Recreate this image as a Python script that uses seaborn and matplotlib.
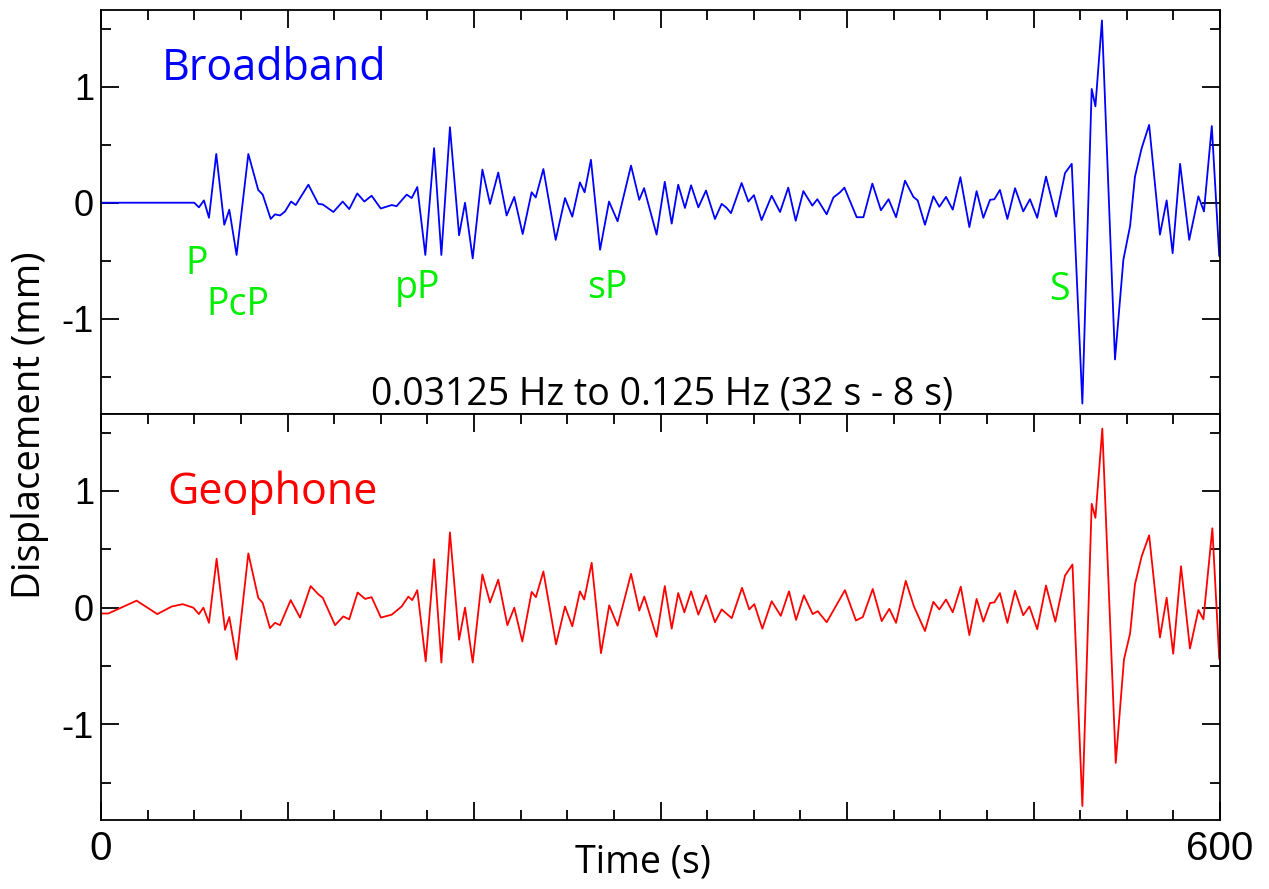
import numpy as np
import pandas as pd
import matplotlib
matplotlib.use("Agg")
import matplotlib.pyplot as plt
from matplotlib.ticker import MultipleLocator, FixedLocator
import seaborn as sns

# ---------------- data ----------------
bb_t = [0, 50, 52.5, 55.2, 57.9, 61.8, 66.1, 68.8, 72.7, 79.0, 84.3, 86.7, 91.0, 93.3, 96.0, 98.7,
        101.9, 104.4, 111.2, 116.5, 118.9, 124.6, 129.6, 133.1, 137.4, 141.2, 145.1, 150.0, 155.9,
        158.5, 163.9, 166.6, 169.6, 173.9, 178.6, 182.5, 187.1, 192.0, 195.2, 199.3, 204.5, 208.6,
        213.0, 217.5, 221.6, 226.1, 230.9, 233.1, 237.2, 243.8, 248.8, 252.7, 256.8, 259.3, 262.7,
        267.6, 272.4, 277.0, 284.2, 288.6, 291.2, 297.9, 302.3, 306.0, 309.5, 313.1, 316.4, 320.3,
        324.4, 329.2, 332.8, 335.5, 337.8, 343.5, 347.1, 350.1, 354.2, 359.6, 364.1, 368.5, 372.5,
        376.6, 381.4, 384.1, 389.1, 392.7, 396.3, 398.6, 405.2, 408.8, 413.6, 418.2, 422.3, 426.3,
        431.1, 435.6, 437.9, 441.8, 446.3, 449.5, 453.1, 456.7, 460.8, 465.6, 469.5, 473.1, 476.7,
        479.0, 482.0, 486.0, 490.1, 494.5, 498.1, 502.0, 506.7, 512.1, 516.9, 520.5, 526.2, 531.2,
        533.2, 536.7, 543.7, 548.2, 551.8, 554.4, 558.0, 562.0, 567.8, 571.4, 574.6, 578.6, 583.5,
        588.4, 591.4, 595.6, 599.6]
bb_v = [0, 0, -0.04, 0.02, -0.13, 0.42, -0.19, -0.06, -0.45, 0.42, 0.11, 0.07, -0.14, -0.10, -0.11,
        -0.075, 0.01, -0.02, 0.155, -0.01, -0.015, -0.08, 0.01, -0.055, 0.08, 0.01, 0.06, -0.05, -0.02,
        -0.03, 0.07, 0.04, 0.135, -0.45, 0.47, -0.45, 0.65, -0.28, 0.0, -0.48, 0.285, -0.01, 0.26,
        -0.11, 0.05, -0.27, 0.09, 0.045, 0.29, -0.32, 0.04, -0.12, 0.175, 0.09, 0.37, -0.405, 0.01,
        -0.16, 0.32, 0.025, 0.125, -0.275, 0.18, -0.18, 0.155, -0.045, 0.15, -0.04, 0.105, -0.14,
        -0.01, -0.045, -0.09, 0.17, 0.01, 0.065, -0.15, 0.06, -0.08, 0.13, -0.155, 0.10, -0.025, 0.03,
        -0.10, 0.045, 0.09, 0.13, -0.125, -0.125, 0.165, -0.065, 0.03, -0.125, 0.19, 0.05, 0.02,
        -0.19, 0.055, -0.035, 0.05, -0.06, 0.22, -0.21, 0.10, -0.13, 0.025, 0.03, 0.11, -0.14, 0.125,
        -0.075, 0.03, -0.13, 0.225, -0.12, 0.255, 0.335, -1.73, 0.98, 0.83, 1.57, -1.35, -0.49, -0.2,
        0.225, 0.47, 0.67, -0.275, 0.02, -0.435, 0.335, -0.32, 0.055, -0.075, 0.66, -0.46]

geo_t = [0, 3.9, 19.1, 30.2, 37.9, 43.8, 49.5, 52.5, 54.9, 57.9, 62.0, 66.5, 68.8, 72.7, 79.0, 84.3,
         86.7, 90.6, 93.3, 96.0, 101.7, 106.7, 112.4, 116.5, 118.9, 125.5, 129.9, 133.1, 137.6, 141.6,
         145.1, 150.1, 155.9, 161.2, 164.8, 166.9, 169.6, 174.1, 178.6, 182.5, 187.1, 192.0, 195.2,
         199.3, 204.5, 208.6, 213.0, 217.9, 221.6, 225.9, 230.9, 233.2, 237.2, 244.0, 248.8, 252.7,
         256.8, 259.1, 263.1, 268.1, 272.5, 277.0, 284.2, 288.6, 291.3, 297.9, 302.3, 306.0, 309.5,
         312.8, 316.4, 320.3, 324.4, 329.2, 332.8, 338.2, 343.7, 347.6, 350.3, 354.6, 359.6, 364.5,
         368.9, 372.7, 376.9, 381.6, 384.3, 389.1, 396.2, 398.9, 404.8, 408.5, 413.8, 418.6, 422.7,
         426.3, 431.5, 435.9, 441.8, 446.3, 449.5, 453.1, 456.7, 461.0, 465.6, 469.5, 473.1, 476.7,
         479.0, 482.0, 486.0, 490.1, 494.5, 497.8, 502.0, 506.7, 511.7, 516.9, 520.9, 526.2, 531.2,
         533.2, 536.9, 544.1, 548.5, 551.8, 554.4, 558.0, 562.0, 567.8, 571.4, 574.9, 579.1, 583.9,
         588.4, 591.1, 595.9, 599.6]
geo_v = [-0.05, -0.05, 0.06, -0.055, 0.01, 0.03, 0.0, -0.055, 0.0, -0.13, 0.42, -0.19, -0.08, -0.445,
         0.465, 0.085, 0.04, -0.175, -0.13, -0.15, 0.065, -0.085, 0.185, 0.115, 0.085, -0.15, -0.075,
         -0.1, 0.13, 0.075, 0.09, -0.085, -0.06, 0.01, 0.095, 0.065, 0.15, -0.46, 0.415, -0.47, 0.645,
         -0.275, 0.0, -0.47, 0.285, 0.045, 0.24, -0.15, 0.0, -0.29, 0.135, 0.09, 0.31, -0.315, 0.01,
         -0.16, 0.14, 0.07, 0.385, -0.39, 0.02, -0.155, 0.29, -0.025, 0.095, -0.25, 0.185, -0.18, 0.125,
         -0.04, 0.14, -0.06, 0.105, -0.125, -0.015, -0.09, 0.17, -0.015, 0.03, -0.18, 0.055, -0.07,
         0.14, -0.105, 0.105, -0.055, -0.03, -0.125, 0.075, 0.15, -0.11, -0.08, 0.16, -0.115, -0.01,
         -0.13, 0.23, 0.01, -0.2, 0.05, -0.015, 0.07, -0.04, 0.18, -0.235, 0.075, -0.12, 0.04, 0.045,
         0.125, -0.13, 0.145, -0.065, 0.01, -0.185, 0.19, -0.12, 0.275, 0.37, -1.70, 0.89, 0.77, 1.535,
         -1.33, -0.445, -0.22, 0.2, 0.44, 0.62, -0.255, 0.085, -0.395, 0.355, -0.35, -0.02, -0.1, 0.68,
         -0.44]

phase_names = ["P", "PcP", "pP", "sP", "S"]
phase_t = [51.3, 73.5, 169.6, 271.3, 514.0]
phase_v = [-0.61, -0.97, -0.82, -0.82, -0.84]

x_tick_vals = [0, 100, 200, 300, 400, 500, 600]
x_tick_labels = ["0", "", "", "", "", "", "600"]
y_tick_vals = [-1, 0, 1]
y_tick_labels = ["-1", "0", "1"]

# ---------------- style ----------------
sns.set_style("ticks")
plt.rcParams["font.family"] = ["Open Sans", "DejaVu Sans"]
plt.rcParams["text.color"] = "black"
plt.rcParams["axes.labelcolor"] = "black"
TICKFONT = "Liberation Sans"

fig = plt.figure(figsize=(12.69, 8.89), dpi=100)
L, R = 101 / 1269, 1220 / 1269
y_top, y_mid, y_bot = 1 - 10 / 889, 1 - 414 / 889, 1 - 820 / 889
ax1 = fig.add_axes([L, y_mid, R - L, y_top - y_mid])
ax2 = fig.add_axes([L, y_bot, R - L, y_mid - y_bot])

df_bb = pd.DataFrame({"t": bb_t, "v": bb_v})
df_geo = pd.DataFrame({"t": geo_t, "v": geo_v})
sns.lineplot(data=df_bb, x="t", y="v", ax=ax1, color="#0000ff", lw=1.3, sort=False,
             estimator=None, solid_joinstyle="round")
sns.lineplot(data=df_geo, x="t", y="v", ax=ax2, color="#ff0000", lw=1.3, sort=False,
             estimator=None, solid_joinstyle="round")

for ax in (ax1, ax2):
    ax.set_xlim(0, 600)
    ax.set_ylim(-1.82, 1.66)
    ax.set_xlabel("")
    ax.set_ylabel("")
    for s in ax.spines.values():
        s.set_visible(True)
        s.set_linewidth(1.3)
        s.set_color("black")
    ax.xaxis.set_major_locator(FixedLocator(x_tick_vals))
    ax.xaxis.set_minor_locator(MultipleLocator(25))
    ax.yaxis.set_major_locator(FixedLocator(y_tick_vals))
    ax.yaxis.set_minor_locator(FixedLocator([-1.5, -0.5, 0.5, 1.5]))
    ax.set_yticklabels(y_tick_labels, fontsize=26, family=TICKFONT, color="black")
    ax.tick_params(axis="both", which="major", direction="in", length=13, width=1.3, colors="black")
    ax.tick_params(axis="both", which="minor", direction="in", length=7, width=1.3, colors="black")
    ax.tick_params(axis="y", which="both", left=True, right=True, pad=5)

ax1.tick_params(axis="x", which="both", top=True, bottom=False, labelbottom=False)
ax2.tick_params(axis="x", which="both", top=True, bottom=True, pad=7)
ax2.set_xticklabels(x_tick_labels, fontsize=29, family=TICKFONT, color="black")

# texts
ax1.text(32.7, 1.06, "Broadband", color="#0000ff", fontsize=31, ha="left", va="baseline")
ax2.text(35.4, 0.89, "Geophone", color="#ff0000", fontsize=31, ha="left", va="baseline")
ax1.text(301, -1.74, "0.03125 Hz to 0.125 Hz (32 s - 8 s)", color="black", fontsize=27,
         ha="center", va="baseline")
for name, tt, vv in zip(phase_names, phase_t, phase_v):
    ax1.text(tt, vv, name, color="#00ee00", fontsize=27, ha="center", va="baseline")

fig.text(30 / 1269, 1 - 425 / 889, "Displacement (mm)", rotation=90, fontsize=27.5,
         ha="center", va="center")
fig.text(643 / 1269, 1 - 862 / 889, "Time (s)", fontsize=27, ha="center", va="center")

fig.savefig("out.png", dpi=100)
